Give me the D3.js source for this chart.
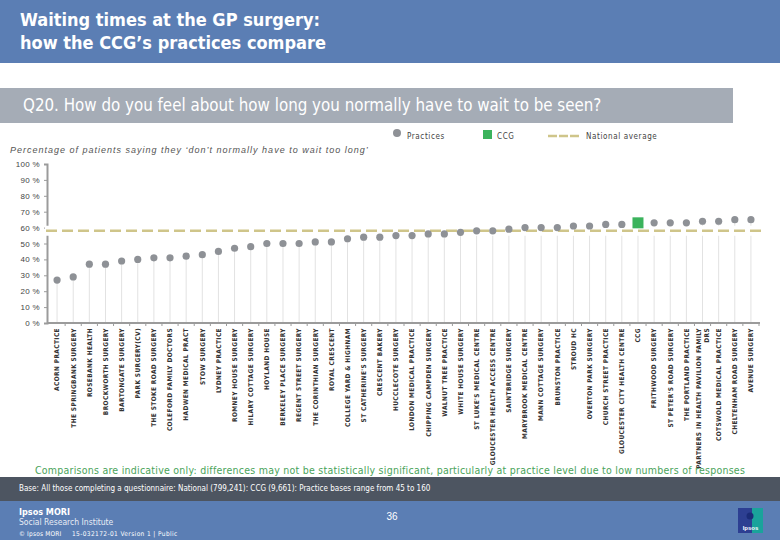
<!DOCTYPE html>
<html><head><meta charset="utf-8">
<script src="https://cdn.jsdelivr.net/npm/d3@7"></script>
<style>
html,body{margin:0;padding:0;background:#fff;}
svg{display:block;}
</style></head>
<body>
<svg id="chart" width="780" height="540"></svg>
<script>
const categories = [
  "ACORN PRACTICE","THE SPRINGBANK SURGERY","ROSEBANK HEALTH","BROCKWORTH SURGERY","BARTONGATE SURGERY",
  "PARK SURGERY(CV)","THE STOKE ROAD SURGERY","COLEFORD FAMILY DOCTORS","HADWEN MEDICAL PRACT","STOW SURGERY",
  "LYDNEY PRACTICE","ROMNEY HOUSE SURGERY","HILARY COTTAGE SURGERY","HOYLAND HOUSE","BERKELEY PLACE SURGERY",
  "REGENT STREET SURGERY","THE CORINTHIAN SURGERY","ROYAL CRESCENT","COLLEGE YARD & HIGHNAM","ST CATHERINE'S SURGERY",
  "CRESCENT BAKERY","HUCCLECOTE SURGERY","LONDON MEDICAL PRACTICE","CHIPPING CAMPDEN SURGERY","WALNUT TREE PRACTICE",
  "WHITE HOUSE SURGERY","ST LUKE'S MEDICAL CENTRE","GLOUCESTER HEALTH ACCESS CENTRE","SAINTBRIDGE SURGERY","MARYBROOK MEDICAL CENTRE",
  "MANN COTTAGE SURGERY","BRUNSTON PRACTICE","STROUD HC","OVERTON PARK SURGERY","CHURCH STREET PRACTICE",
  "GLOUCESTER CITY HEALTH CENTRE","CCG","FRITHWOOD SURGERY","ST PETER'S ROAD SURGERY","THE PORTLAND PRACTICE",
  "PARTNERS IN HEALTH PAVILION FAMILY|DRS","COTSWOLD MEDICAL PRACTICE","CHELTENHAM ROAD SURGERY","AVENUE SURGERY"
];
const values = [
  27,29,37,37,39,40,41,41,42,43,
  45,47,48,50,50,50,51,51,53,54,
  54,55,55,56,56,57,58,58,59,60,
  60,60,61,61,62,62,63,63,63,63,
  64,64,65,65
];
const ccgCategory = "CCG";
const nationalAverage = 58;
const yTicks = [0,10,20,30,40,50,60,70,80,90,100];

const title = ["Waiting times at the GP surgery:", "how the CCG\u2019s practices compare"];
const question = "Q20. How do you feel about how long you normally have to wait to be seen?";
const subtitle = "Percentage of patients saying they \u2018don\u2019t normally have to wait too long\u2019";
const legendLabels = ["Practices","CCG","National average"];
const note = "Comparisons are indicative only: differences may not be statistically significant, particularly at practice level due to low numbers of responses";
const baseText = "Base: All those completing a questionnaire: National (799,241): CCG (9,661): Practice bases range from 45 to 160";

const svg = d3.select("#chart");
const narrow = "'Liberation Sans Narrow','Arial Narrow','DejaVu Sans Condensed',sans-serif";
const sans = "'Liberation Sans',Arial,sans-serif";
const BLUE = "#5b7eb4";

// Header
svg.append("rect").attr("x",0).attr("y",0).attr("width",780).attr("height",63).attr("fill",BLUE);
svg.selectAll("text.title").data(title).join("text").attr("class","title")
  .attr("x",20).attr("y",(d,i)=>26+i*23)
  .attr("fill","#fff").attr("font-family",narrow).attr("font-weight","bold").attr("font-size",18)
  .text(d=>d);

// Question band
svg.append("rect").attr("x",0).attr("y",88).attr("width",733).attr("height",35).attr("fill","#a5acb6");
svg.append("text").attr("x",23).attr("y",111).attr("fill","#fff").attr("font-family",narrow)
  .attr("font-size",16.8).text(question);

// Legend
const lg = svg.append("g").attr("font-family",narrow).attr("font-size",8).attr("fill","#444").attr("letter-spacing",0.6);
lg.append("circle").attr("cx",397).attr("cy",133).attr("r",4).attr("fill","#8e9196");
lg.append("text").attr("x",407).attr("y",139).text(legendLabels[0]);
lg.append("rect").attr("x",483).attr("y",130).attr("width",9).attr("height",9).attr("fill","#3bb35c");
lg.append("text").attr("x",497).attr("y",139).text(legendLabels[1]);
lg.append("line").attr("x1",548).attr("x2",580).attr("y1",136).attr("y2",136)
  .attr("stroke","#cfc58a").attr("stroke-width",2.5).attr("stroke-dasharray","9 2");
lg.append("text").attr("x",586).attr("y",139).text(legendLabels[2]);

// Subtitle
svg.append("text").attr("x",10).attr("y",153).attr("font-family",sans).attr("font-style","italic")
  .attr("font-size",9).attr("letter-spacing",1.0).attr("fill","#555").text(subtitle);

// Scales
const x = d3.scaleBand().domain(categories).range([49,759]).padding(0);
const y = d3.scaleLinear().domain([0,100]).range([323,164]);
const cx = d => x(d) + x.bandwidth()/2;
const data = categories.map((c,i)=>({cat:c, value:values[i]}));

// Stems
svg.append("g").selectAll("line").data(data).join("line")
  .attr("x1",d=>cx(d.cat)).attr("x2",d=>cx(d.cat))
  .attr("y1",y(0)).attr("y2",d=>y(d.value))
  .attr("stroke","#e2e2e2").attr("stroke-width",1);

// Y axis
const yAxis = svg.append("g").attr("transform","translate(47,0)")
  .call(d3.axisLeft(y).tickValues(yTicks).tickFormat(d=>d+" %").tickSize(3).tickPadding(4));
yAxis.select(".domain").attr("stroke","#9b9b9b").attr("stroke-width",2);
yAxis.selectAll(".tick line").attr("stroke","#9b9b9b");
yAxis.selectAll(".tick text").attr("font-family",sans).attr("font-size",8).attr("fill","#444").attr("letter-spacing",0.3);

// X axis line with boundary ticks
const xAxis = svg.append("g").attr("transform",`translate(0,${y(0)})`)
  .call(d3.axisBottom(x).tickSize(0).tickFormat(""));
xAxis.select(".domain").attr("stroke","#9b9b9b").attr("stroke-width",2).attr("d","M47,0H760");
xAxis.selectAll(".tick").append("line")
  .attr("x1",x.bandwidth()/2).attr("x2",x.bandwidth()/2).attr("y1",0).attr("y2",3)
  .attr("stroke","#9b9b9b");

// Category labels
const labels = svg.append("g").attr("font-family",narrow).attr("font-weight","bold")
  .attr("font-size",6.5).attr("fill","#333").attr("letter-spacing",0.4);
data.forEach(d=>{
  const lines = d.cat.split("|");
  lines.forEach((ln,j)=>{
    const off = (j - (lines.length-1)/2) * 8.5;
    const px = cx(d.cat) + 2.3 + off;
    labels.append("text")
      .attr("transform",`translate(${px},${y(0)+5}) rotate(-90)`)
      .attr("text-anchor","end").text(ln);
  });
});

// National average line with white halo
svg.append("line").attr("x1",45).attr("x2",765).attr("y1",y(nationalAverage)).attr("y2",y(nationalAverage))
  .attr("stroke","#fff").attr("stroke-width",10);
svg.append("line").attr("x1",46).attr("x2",763).attr("y1",y(nationalAverage)).attr("y2",y(nationalAverage))
  .attr("stroke","#cfc58a").attr("stroke-width",2.6).attr("stroke-dasharray","11 5");

// Points
svg.append("g").selectAll("circle").data(data.filter(d=>d.cat!==ccgCategory)).join("circle")
  .attr("cx",d=>cx(d.cat)).attr("cy",d=>y(d.value)).attr("r",3.6).attr("fill","#8e9196");
svg.append("g").selectAll("rect").data(data.filter(d=>d.cat===ccgCategory)).join("rect")
  .attr("x",d=>cx(d.cat)-5.5).attr("y",d=>y(d.value)-5.5).attr("width",11).attr("height",11).attr("fill","#3bb35c");

// Note
svg.append("text").attr("x",390).attr("y",474).attr("text-anchor","middle").attr("font-family",narrow)
  .attr("font-size",10.5).attr("fill","#4aa35a").attr("letter-spacing",0.25).text(note);

// Base band
svg.append("rect").attr("x",0).attr("y",477).attr("width",780).attr("height",24).attr("fill","#4d5561");
svg.append("text").attr("x",19).attr("y",491).attr("font-family",narrow).attr("font-size",8)
  .attr("fill","#fff").text(baseText);

// Footer
svg.append("rect").attr("x",0).attr("y",501).attr("width",780).attr("height",39).attr("fill",BLUE);
svg.append("text").attr("x",19).attr("y",515).attr("font-family",narrow).attr("font-size",9).attr("font-weight","bold").attr("fill","#fff").text("Ipsos MORI");
svg.append("text").attr("x",19).attr("y",525).attr("font-family",narrow).attr("font-size",8.5).attr("fill","#e8ecf4").text("Social Research Institute");
svg.append("text").attr("x",19).attr("y",535.5).attr("font-family",narrow).attr("font-size",6.5).attr("letter-spacing",0.2).attr("fill","#fff").text("\u00a9 Ipsos MORI");
svg.append("text").attr("x",72).attr("y",535.5).attr("font-family",narrow).attr("font-size",6.5).attr("letter-spacing",0.4).attr("fill","#fff").text("15-032172-01 Version 1 | Public");
svg.append("text").attr("x",392).attr("y",520).attr("text-anchor","middle").attr("font-family",sans).attr("font-size",10).attr("fill","#fff").text("36");
// Logo
const logo = svg.append("g");
logo.append("rect").attr("x",738).attr("y",508).attr("width",25).attr("height",25).attr("fill","#2d3f92");
logo.append("rect").attr("x",752).attr("y",508).attr("width",11).attr("height",25).attr("fill","#1aa39b");
logo.append("circle").attr("cx",750).attr("cy",516).attr("r",3.5).attr("fill","#1b2c78");
logo.append("text").attr("x",750.5).attr("y",530).attr("text-anchor","middle").attr("font-family",sans)
  .attr("font-weight","bold").attr("font-size",6).attr("fill","#fff").text("Ipsos");
</script>
</body></html>
